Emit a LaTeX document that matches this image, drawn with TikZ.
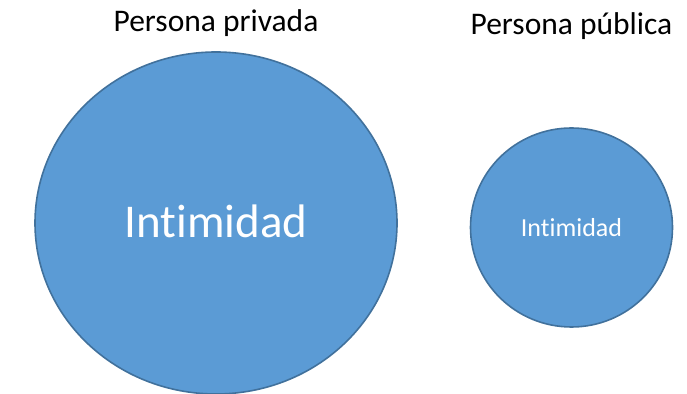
\documentclass[tikz,border=0pt]{standalone}
\usepackage{fontspec}
\setmainfont{Carlito}[Ligatures={NoCommon,NoRare}]
\definecolor{cfill}{HTML}{5B9BD5}
\definecolor{cline}{HTML}{41719C}
\begin{document}
\begin{tikzpicture}[x=1pt,y=1pt,
  bubble/.style={fill=cfill,draw=cline,line width=1.6pt},
  title/.style={anchor=base,inner sep=0pt,font=\fontsize{31.5}{36}\selectfont,text=black},
  inner/.style={anchor=base,inner sep=0pt,text=white}]
\useasboundingbox (0,0) rectangle (687,393);
\draw[bubble] (216,170) ellipse [x radius=181, y radius=171];
\draw[bubble] (571.5,165.5) ellipse [x radius=101, y radius=99.5];
\node[title] (t1) at (216,361) {Persona privada};
\node[title] (t2) at (571.5,358) {Persona pública};
\node[inner,font=\fontsize{47}{52}\selectfont] (i1) at (216,155) {Intimidad};
\node[inner,font=\fontsize{26}{30}\selectfont] (i2) at (571.5,156) {Intimidad};
\end{tikzpicture}
\end{document}
